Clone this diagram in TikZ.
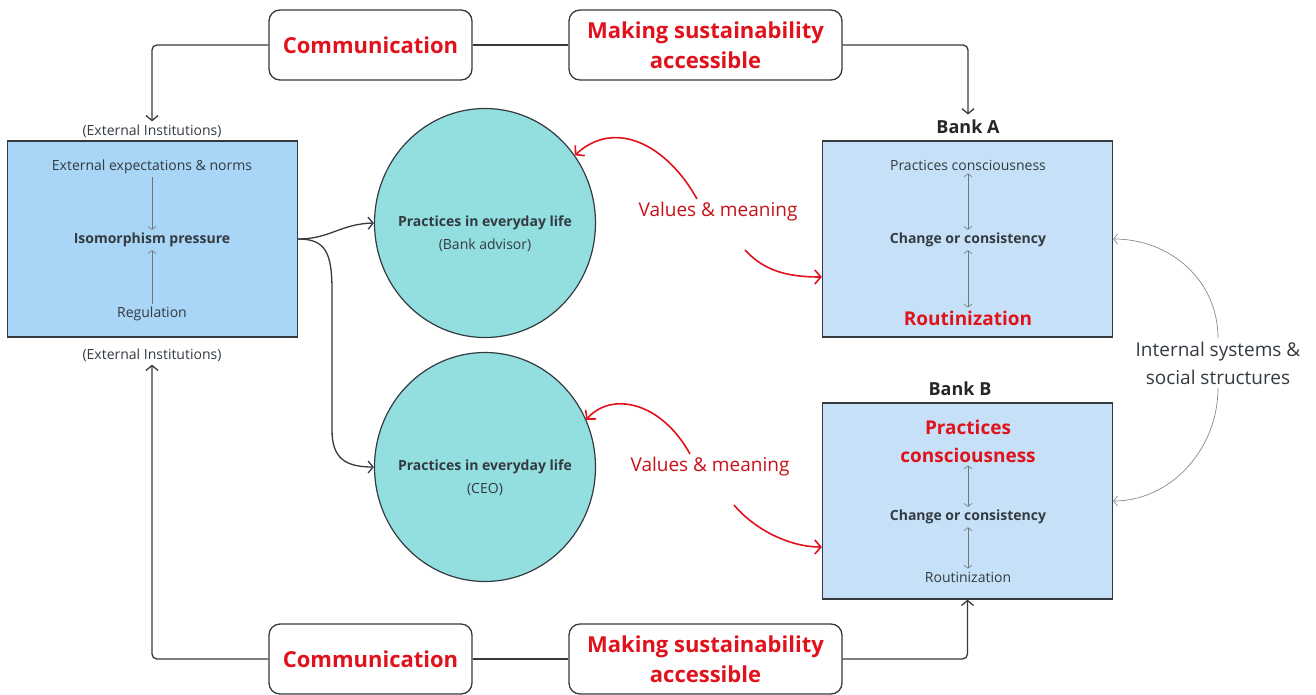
\documentclass[tikz,border=0pt]{standalone}
\usepackage{fontspec}
\setmainfont{Open Sans}
\usetikzlibrary{arrows.meta, shapes.geometric, positioning}

\definecolor{boxblue}{HTML}{A9D5F6}
\definecolor{bankblue}{HTML}{C6E1F7}
\definecolor{lifecyan}{HTML}{93DFE0}
\definecolor{hotred}{HTML}{E0121C}
\definecolor{ink}{HTML}{333A40}

\tikzset{
	topic/.style={draw=ink, line width=1.3pt, rounded corners=11pt, fill=white, minimum height=70pt, align=center, text=hotred, font=\bfseries\fontsize{22}{30}\selectfont},
	bankbox/.style={draw=ink, line width=1.3pt, minimum width=290pt, minimum height=196pt},
	practice/.style={ellipse, draw=ink, line width=1.2pt, fill=lifecyan, minimum width=221pt, minimum height=229pt},
	small/.style={text=ink, font=\fontsize{14}{23}\selectfont, align=center, inner sep=1pt},
	smallbf/.style={small, font=\bfseries\fontsize{14}{23}\selectfont},
	redbf/.style={text=hotred, font=\bfseries\fontsize{19}{28}\selectfont, align=center, inner sep=1pt},
	banklabel/.style={text=black!85, font=\bfseries\fontsize{18}{22}\selectfont},
	valtext/.style={text=hotred!90!black, font=\fontsize{19}{24}\selectfont},
	line/.style={draw=ink, line width=1.3pt},
	link/.style={line, -{Straight Barb[length=5pt,width=12pt]}},
	pointer/.style={draw=ink!70, line width=0.6pt, >={Straight Barb[length=3pt,width=8pt]}, shorten <=2pt, shorten >=2pt},
	redlink/.style={draw=hotred, line width=1.6pt, -{Straight Barb[length=6pt,width=14pt]}},
	grayarc/.style={draw=ink!60, line width=0.7pt, -{Straight Barb[length=4pt,width=10pt]}}
}

\begin{document}
\begin{tikzpicture}[x=1pt,y=-1pt]
				\useasboundingbox (0,0) rectangle (1316,695);

				% Communication channels, top and bottom
				\node[topic, minimum width=203pt] (commTop) at (370.5,45) {Communication};
				\node[topic, minimum width=273pt] (makeTop) at (705.5,45) {Making sustainability\\accessible};
				\node[topic, minimum width=203pt] (commBot) at (370.5,659) {Communication};
				\node[topic, minimum width=273pt] (makeBot) at (705.5,659) {Making sustainability\\accessible};

				% External institutions
				\node[bankbox, fill=boxblue] (iso) at (152.5,239) {};
				\node[small] (norms) at (152,167) {External expectations \& norms};
				\node[smallbf] (pressure) at (152,240) {Isomorphism pressure};
				\node[small] (regulation) at (152,314) {Regulation};
				\draw[pointer, ->] (norms) -- (pressure);
				\draw[pointer, ->] (regulation) -- (pressure);
				\node[small] (extTop) at (152,131) {(External Institutions)};
				\node[small] (extBot) at (152,355) {(External Institutions)};

				% Everyday practices
				\node[practice] (advisor) at (485,223) {};
				\node[small] (advisorTxt) at (485,234) {\textbf{Practices in everyday life}\\(Bank advisor)};
				\node[practice] (ceo) at (485,467) {};
				\node[small] (ceoTxt) at (485,478) {\textbf{Practices in everyday life}\\(CEO)};

				% Bank A
				\node[bankbox, fill=bankblue] (bankA) at (967.5,239) {};
				\node[banklabel] (labelA) at (968,127) {Bank A};
				\node[small] (consciousA) at (968,165) {Practices consciousness};
				\node[smallbf] (changeA) at (968,240) {Change or consistency};
				\node[redbf] (routineA) at (968,318) {Routinization};
				\draw[pointer, <->] (consciousA) -- (changeA);
				\draw[pointer, <->] (changeA) -- (routineA);

				% Bank B
				\node[bankbox, fill=bankblue] (bankB) at (967.5,501) {};
				\node[banklabel] (labelB) at (960,389) {Bank B};
				\node[redbf] (consciousB) at (968,441) {Practices\\consciousness};
				\node[smallbf] (changeB) at (968,517) {Change or consistency};
				\node[small] (routineB) at (968,577) {Routinization};
				\draw[pointer, <->] (consciousB) -- (changeB);
				\draw[pointer, <->] (changeB) -- (routineB);

				% Channels into institutions and banks
				\draw[link, rounded corners=5pt, shorten >=2pt] (commTop.west) -| (extTop.north);
				\draw[line] (commTop.east) -- (makeTop.west);
				\draw[link, rounded corners=5pt, shorten >=2pt] (makeTop.east) -| (labelA.north);
				\draw[link, rounded corners=5pt, shorten >=2pt] (commBot.west) -| (extBot.south);
				\draw[line] (commBot.east) -- (makeBot.west);
				\draw[link, rounded corners=5pt] (makeBot.east) -| (bankB.south);

				% Pressure on practices
				\draw[link] (iso.east) .. controls (330,239) and (340,224) .. (advisor.west);
				\draw[link] (iso.east) .. controls (325,239) and (332,252) .. (332,290) -- (332,430) .. controls (332,458) and (345,467) .. (ceo.west);

				% Values and meaning
				\node[valtext] (valuesA) at (718,212) {Values \& meaning};
				\node[valtext] (valuesB) at (710,467) {Values \& meaning};
				\coordinate (fromA) at (745,250);
				\coordinate (fromB) at (734,505);
				\draw[redlink] ([xshift=-21pt]valuesA.north) .. controls (667,145) and (615,118) .. (advisor.37);
				\draw[redlink] (fromA) .. controls (765,272) and (790,277) .. ([yshift=-38pt]bankA.west);
				\draw[redlink] ([xshift=-20pt]valuesB.north) .. controls (660,400) and (610,392) .. (ceo.25);
				\draw[redlink] (fromB) .. controls (755,530) and (790,547) .. ([yshift=-46pt]bankB.west);

				% Internal systems
				\node[text=ink, font=\fontsize{19}{28}\selectfont, align=center] (internal) at (1218,363) {Internal systems \&\\social structures};
				\draw[grayarc] (internal.north) .. controls (1218,280) and (1170,239) .. (bankA.east);
				\draw[grayarc] (internal.south) .. controls (1218,450) and (1170,501) .. (bankB.east);
\end{tikzpicture}
\end{document}
